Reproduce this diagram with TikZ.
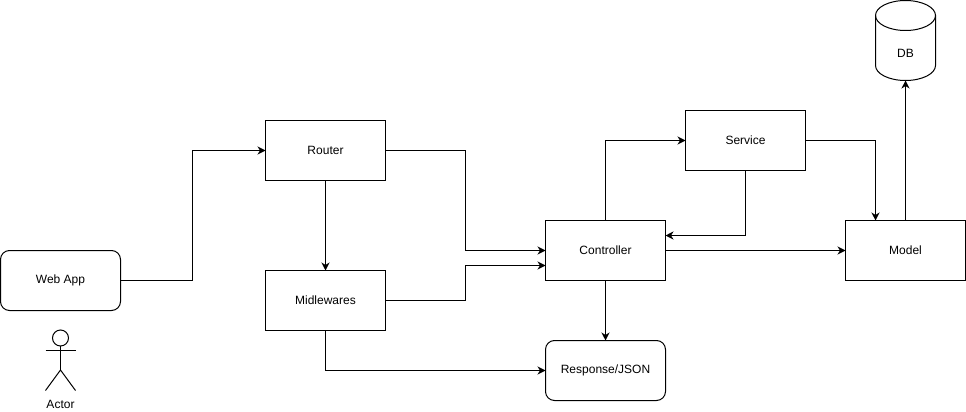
\documentclass[tikz,border=0pt]{standalone}
\usepackage{fontspec}
\setmainfont{Liberation Sans}
\usetikzlibrary{arrows.meta,calc}
\tikzset{
	box/.style={draw, minimum width=120, minimum height=60, outer sep=0, inner sep=0, font=\fontsize{12}{14}\selectfont},
	softbox/.style={box, rounded corners=9},
	link/.style={-{Stealth[length=8,width=8,inset=2.5]}, line width=1},
}
\begin{document}
\begin{tikzpicture}[x=1pt, y=-1pt, line width=1]
		\useasboundingbox (0,0) rectangle (966,412);
		\node[softbox] (webapp) at (60.5,280.5) {Web App};
		\node[box] (router) at (325.5,150.5) {Router};
		\node[box] (midlewares) at (325.5,300.5) {Midlewares};
		\node[box] (controller) at (605.5,250.5) {Controller};
		\node[softbox] (response) at (605.5,370.5) {Response/JSON};
		\node[box] (service) at (745.5,140.5) {Service};
		\node[box] (model) at (905.5,250.5) {Model};
		% database
		\node[minimum width=60, minimum height=80, outer sep=0, inner sep=0] (db) at (905.5,40.5) {};
		\draw (875.5,15.5) arc[start angle=180, end angle=-180, x radius=30, y radius=15];
		\draw (875.5,15.5) -- (875.5,65.5) arc[start angle=180, end angle=360, x radius=30, y radius=-15] -- (935.5,15.5);
		\node[font=\fontsize{12}{14}\selectfont] (dblabel) at (905.5,53) {DB};
		% actor
		\node[draw, circle, minimum size=16, inner sep=0, outer sep=0] (head) at (60.5,338) {};
		\coordinate (hip) at (60.5,370);
		\draw (head.south) -- (hip);
		\draw (45.5,350.5) -- (75.5,350.5);
		\draw (45.5,390.5) -- (hip) -- (75.5,390.5);
		\node[font=\fontsize{12}{14}\selectfont] (actor) at (60.5,404) {Actor};
		% connectors
		\draw[link] (webapp.east) -- (192.5,280.5) -- (192.5,150.5) -- (router.west);
		\draw[link] (router.south) -- (midlewares.north);
		\draw[link] (router.east) -- (465.5,150.5) -- (465.5,250.5) -- (controller.west);
		\draw[link] (midlewares.east) -- (465.5,300.5) -- (465.5,265.5) -- ($(controller.west)+(0,15)$);
		\draw[link] (midlewares.south) |- (response.west);
		\draw[link] (controller.north) |- (service.west);
		\draw[link] (service.south) |- ($(controller.east)+(0,-15)$);
		\draw[link] (controller.east) -- (model.west);
		\draw[link] (controller.south) -- (response.north);
		\draw[link] (service.east) -| ($(model.north)+(-30,0)$);
		\draw[link] (model.north) -- (db.south);
	\end{tikzpicture}
\end{document}
